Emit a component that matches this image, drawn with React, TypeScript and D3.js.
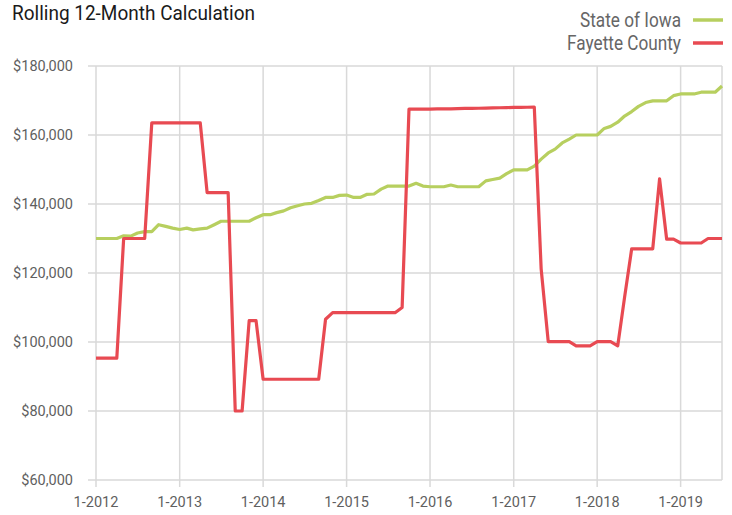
import { useRef, useEffect } from 'react';
import * as d3 from 'd3';

// Monthly values, 1-2012 through 7-2019
const startMonth = new Date(2012, 0, 1);
const endMonth = new Date(2019, 6, 1);

const iowaValues = [
  130000, 130000, 130000, 130000, 130800, 130700, 131600, 132000, 132000, 134000, 133500, 133000,
  132600, 133000, 132500, 132800, 133000, 134000, 135000, 135000, 135000, 135000, 135000, 136000,
  136900, 136900, 137500, 138000, 138900, 139500, 140000, 140200, 141000, 141900, 141900, 142500,
  142600, 141900, 141900, 142800, 142900, 144300, 145200, 145200, 145200, 145200, 146000, 145200,
  145000, 145000, 145000, 145500, 145000, 145000, 145000, 145000, 146700, 147100, 147500, 148800,
  149900, 149900, 149900, 151000, 153000, 154800, 155900, 157700, 158800, 160000, 160000, 160000,
  160000, 161900, 162500, 163700, 165500, 166800, 168300, 169400, 169900, 169900, 169900, 171400,
  171900, 171900, 171900, 172400, 172400, 172400, 174200,
];

const fayetteValues = [
  95300, 95300, 95300, 95300, 130000, 130000, 130000, 130000, 163500, 163500, 163500, 163500,
  163500, 163500, 163500, 163500, 143300, 143300, 143300, 143300, 80000, 80000, 106200, 106200,
  89200, 89200, 89200, 89200, 89200, 89200, 89200, 89200, 89200, 106600, 108500, 108500,
  108500, 108500, 108500, 108500, 108500, 108500, 108500, 108500, 110000, 167500, 167500, 167500,
  167500, 167550, 167600, 167600, 167650, 167700, 167700, 167750, 167800, 167850, 167900, 167950,
  168000, 168000, 168050, 168100, 121200, 100100, 100100, 100100, 100100, 98900, 98900, 98900,
  100100, 100100, 100100, 98900, 113000, 127000, 127000, 127000, 127000, 147300, 129800, 129800,
  128700, 128700, 128700, 128700, 130000, 130000, 130000,
];

const yTicks = [60000, 80000, 100000, 120000, 140000, 160000, 180000];
const xTickYears = [2012, 2013, 2014, 2015, 2016, 2017, 2018, 2019];

const seriesNames = ['State of Iowa', 'Fayette County'];
const seriesColors = ['#b7cf5f', '#e84a52'];

export default function App() {
  const svgRef = useRef<SVGSVGElement>(null);

  useEffect(() => {
    if (!svgRef.current) return;
    const svg = d3.select(svgRef.current);
    svg.selectAll('*').remove();

    const width = 732;
    const height = 515;
    const margin = { top: 66, right: 10, bottom: 35, left: 96 };

    const months = d3.timeMonth.range(startMonth, d3.timeMonth.offset(endMonth, 1));

    const x = d3.scaleTime()
      .domain([startMonth, endMonth])
      .range([margin.left, width - margin.right]);

    const y = d3.scaleLinear()
      .domain([60000, 180000])
      .range([height - margin.bottom, margin.top]);

    const gridColor = '#d9d9d9';
    const labelColor = '#5f5f5f';
    const font = 'Roboto, "Liberation Sans", Arial, sans-serif';

    // Horizontal gridlines + y labels
    const yg = svg.append('g');
    yg.selectAll('line')
      .data(yTicks)
      .enter()
      .append('line')
      .attr('x1', margin.left - 8)
      .attr('x2', width - margin.right)
      .attr('y1', (d) => y(d))
      .attr('y2', (d) => y(d))
      .attr('stroke', gridColor)
      .attr('stroke-width', 1.5);

    yg.selectAll('text')
      .data(yTicks)
      .enter()
      .append('text')
      .attr('x', margin.left - 23)
      .attr('y', (d) => y(d))
      .attr('dy', '0.35em')
      .attr('text-anchor', 'end')
      .attr('font-family', font)
      .attr('font-size', '14.5px')
      .attr('fill', labelColor)
      .text((d) => d3.format('$,')(d));

    // Vertical gridlines + x labels
    const xg = svg.append('g');
    const yearDates = xTickYears.map((yr) => new Date(yr, 0, 1));
    xg.selectAll('line')
      .data(yearDates)
      .enter()
      .append('line')
      .attr('x1', (d) => x(d))
      .attr('x2', (d) => x(d))
      .attr('y1', margin.top)
      .attr('y2', height - margin.bottom + 7)
      .attr('stroke', gridColor)
      .attr('stroke-width', 1.5);

    xg.selectAll('text')
      .data(yearDates)
      .enter()
      .append('text')
      .attr('x', (d) => x(d))
      .attr('y', height - 8)
      .attr('text-anchor', 'middle')
      .attr('font-family', font)
      .attr('font-size', '14.5px')
      .attr('fill', labelColor)
      .text((d) => `1-${d.getFullYear()}`);

    // right border
    svg.append('line')
      .attr('x1', x(endMonth))
      .attr('x2', x(endMonth))
      .attr('y1', margin.top)
      .attr('y2', height - margin.bottom)
      .attr('stroke', gridColor)
      .attr('stroke-width', 1.5);

    // Lines
    const line = d3.line<number>()
      .x((_, i) => x(months[i]))
      .y((d) => y(d));

    [iowaValues, fayetteValues].forEach((vals, i) => {
      svg.append('path')
        .datum(vals)
        .attr('d', line)
        .attr('fill', 'none')
        .attr('stroke', seriesColors[i])
        .attr('stroke-width', 3.2)
        .attr('stroke-linejoin', 'round');
    });

    // Title (condensed look via horizontal scale)
    svg.append('text')
      .attr('transform', 'translate(12,20) scale(0.95,1)')
      .attr('font-family', font)
      .attr('font-size', '20px')
      .attr('fill', '#1a1a1a')
      .text('Rolling 12-Month Calculation');

    // Legend
    const legend = svg.append('g');
    seriesNames.forEach((name, i) => {
      const ly = 20 + i * 23;
      legend.append('text')
        .attr('transform', `translate(681,${ly}) scale(0.86,1)`)
        .attr('dy', '0.35em')
        .attr('text-anchor', 'end')
        .attr('font-family', font)
        .attr('font-size', '20px')
        .attr('fill', '#666666')
        .text(name);
      legend.append('line')
        .attr('x1', 693)
        .attr('x2', 723)
        .attr('y1', ly)
        .attr('y2', ly)
        .attr('stroke', seriesColors[i])
        .attr('stroke-width', 3.5);
    });
  }, []);

  return (
    <div style={{ position: 'absolute', left: 0, top: 0 }}>
      <svg ref={svgRef} width={732} height={515} style={{ display: 'block' }} />
    </div>
  );
}
